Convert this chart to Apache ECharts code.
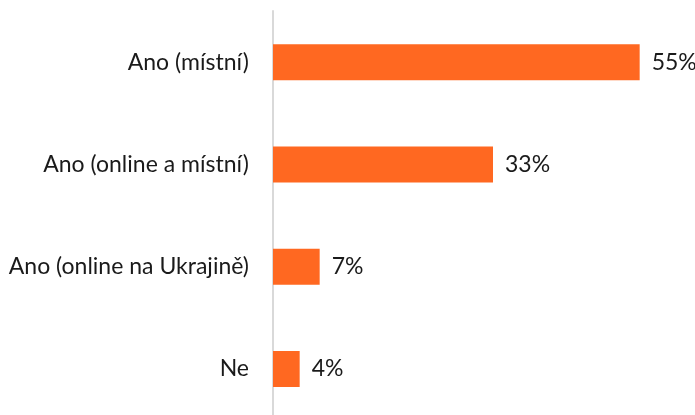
<!DOCTYPE html>
<html>
<head>
<meta charset="utf-8">
<script src="https://cdn.jsdelivr.net/npm/echarts@6/dist/echarts.min.js"></script>
<style>
  html, body { margin: 0; padding: 0; background: #fff; }
  #chart { width: 695px; height: 415px; }
</style>
</head>
<body>
<div id="chart"></div>
<script>
const categories = ['Ano (místní)', 'Ano (online a místní)', 'Ano (online na Ukrajině)', 'Ne']
const values = [55, 33, 7, 4]

const chart = echarts.init(document.getElementById('chart'))

chart.setOption({
  animation: false,
  grid: {
    left: 273,
    top: 11,
    width: 400,
    height: 409,
    outerBoundsMode: 'none'
  },
  xAxis: {
    type: 'value',
    min: 0,
    max: 60,
    show: false
  },
  yAxis: {
    type: 'category',
    inverse: true,
    data: categories,
    axisLine: { show: true, lineStyle: { color: '#d9d9d9', width: 2 } },
    axisTick: { show: false },
    axisLabel: {
      margin: 24,
      fontFamily: 'Lato',
      fontSize: 23,
      color: '#1a1a1a'
    }
  },
  series: [{
    type: 'bar',
    data: values,
    barWidth: 36,
    itemStyle: { color: '#ff6821' },
    label: {
      show: true,
      position: 'right',
      distance: 12,
      formatter: '{c}%',
      fontFamily: 'Lato',
      fontSize: 23,
      color: '#1a1a1a'
    }
  }]
})
</script>
</body>
</html>
